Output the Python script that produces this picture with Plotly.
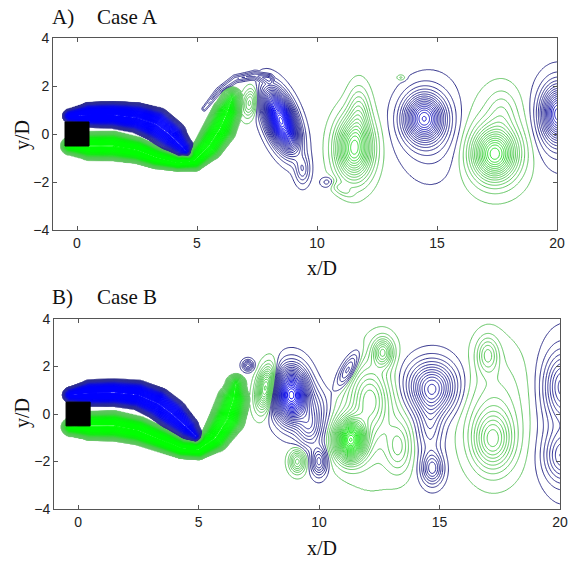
import numpy as np
import plotly.graph_objects as go

# ---------------- axes / text ----------------
x_ticks = [0, 5, 10, 15, 20]
x_tick_labels = ["0", "5", "10", "15", "20"]
y_ticks = [-4, -2, 0, 2, 4]
y_tick_labels = ["\u22124", "\u22122", "0", "2", "4"]
x_range = [-1, 20]
y_range = [-4, 4]
panel_letters = ["A)", "B)"]
panel_titles = ["Case A", "Case B"]
x_title = "x/D"
y_title = "y/D"

# square cylinder (D = 1)
body_x = [-0.5, 0.5, 0.5, -0.5, -0.5]
body_y = [-0.5, -0.5, 0.5, 0.5, -0.5]

# ---------------- Case A : shear layers (polyline vertices, half-widths) ------
a_blue_layer_x = [-0.3, 0.5, 1.5, 2.5, 3.3, 3.9, 4.4, 4.65]
a_blue_layer_y = [0.75, 0.8, 0.8, 0.68, 0.4, -0.05, -0.55, -0.9]
a_blue_layer_amp = [4.0, 5.0, 5.0, 5.0, 5.0, 4.5, 3.5, 2.0]
a_blue_layer_r = [0.3, 0.52, 0.56, 0.63, 0.72, 0.68, 0.46, 0.25]

a_green_layer_x = [-0.3, 0.5, 1.5, 2.5, 3.3, 4.2, 4.9, 5.5, 5.95, 6.25, 6.45]
a_green_layer_y = [-0.5, -0.5, -0.5, -0.68, -0.98, -1.2, -1.1, -0.5, 0.2, 0.9, 1.5]
a_green_layer_amp = [4.0, 5.0, 5.0, 5.0, 5.0, 5.0, 4.8, 4.5, 4.2, 3.6, 2.2]
a_green_layer_r = [0.38, 0.6, 0.62, 0.55, 0.47, 0.35, 0.45, 0.62, 0.7, 0.64, 0.48]

a_fil_x = [5.3, 5.9, 6.6, 7.4, 8.0]
a_fil_y = [1.05, 1.8, 2.3, 2.45, 2.3]
a_fil_amp = [0.25, 0.3, 0.35, 0.4, 0.45]
a_fil_r = [0.12, 0.16, 0.2, 0.22, 0.25]

# ---------------- Case A : vortices (signed strength: + blue, - green) -------
a_vx = [8.5, 9.4, 7.2, 11.55, 11.75, 11.0, 14.45, 14.8, 17.4, 17.5, 17.7, 20.05, 20.1, 13.5, 10.45]
a_vy = [0.55, -1.5, 1.3, -0.6, 1.0, -2.3, 0.65, 0.2, -0.85, -0.3, 1.0, 0.85, 0.5, 2.35, -2.0]
a_vs = [3.0, 0.4, -0.6, -1.5, -0.4, -0.2, 1.45, 0.25, -1.4, -0.25, -0.2, 1.4, 0.25, -0.2, 0.25]
a_vsx = [0.36, 0.2, 0.2, 0.5, 0.3, 0.35, 0.55, 0.9, 0.6, 1.0, 0.4, 0.45, 0.8, 0.12, 0.2]
a_vsy = [0.8, 0.4, 0.4, 0.85, 0.7, 0.15, 0.65, 1.3, 0.7, 1.3, 0.6, 0.75, 1.2, 0.08, 0.15]
a_vang = [20, 0, -10, 0, 0, -30, 0, 0, 0, 0, 0, 0, 0, 0, 0]

# ---------------- Case B : shear layers ----------------
b_blue_layer_x = [-0.3, 0.5, 1.5, 2.5, 3.3, 3.9, 4.5, 4.95]
b_blue_layer_y = [0.8, 0.88, 0.9, 0.8, 0.45, 0.0, -0.55, -1.0]
b_blue_layer_amp = [4.0, 5.0, 5.0, 5.0, 5.0, 4.8, 3.8, 2.2]
b_blue_layer_r = [0.35, 0.56, 0.58, 0.62, 0.68, 0.67, 0.52, 0.3]

b_green_layer_x = [-0.3, 0.5, 1.5, 2.5, 3.5, 4.3, 5.0, 5.7, 6.2, 6.45, 6.55]
b_green_layer_y = [-0.55, -0.5, -0.5, -0.7, -1.1, -1.45, -1.5, -1.0, -0.2, 0.6, 1.25]
b_green_layer_amp = [4.0, 5.0, 5.0, 5.0, 5.0, 5.0, 5.0, 4.6, 4.2, 3.6, 2.5]
b_green_layer_r = [0.4, 0.62, 0.64, 0.6, 0.52, 0.43, 0.43, 0.62, 0.76, 0.7, 0.46]

# ---------------- Case B : vortices ----------------
b_vx = [7.05, 7.8, 8.85, 9.6, 9.9, 9.1, 10.0, 11.2, 11.3, 12.1, 12.65, 13.3, 12.2,
        14.7, 14.6, 14.6, 14.7, 17.0, 17.2, 17.3, 20.1, 20.1, 20.2]
b_vy = [2.05, 1.1, 0.8, -0.6, 0.3, -2.0, -2.0, 1.85, -1.1, 0.6, 2.6, -1.4, 0.0,
        1.0, 1.4, -0.6, -2.3, 2.5, -1.1, 0.2, 1.2, -1.8, 0.0]
b_vs = [0.6, -1.3, 2.4, 0.6, 0.3, -0.7, 0.7, 0.6, -2.2, -0.6, -0.8, -0.4, -0.25,
        0.9, 0.3, 0.4, 0.7, -0.5, -0.8, -0.3, 0.7, 0.6, 0.25]
b_vsx = [0.15, 0.25, 0.45, 0.35, 0.4, 0.22, 0.22, 0.2, 0.4, 0.5, 0.28, 0.35, 1.0,
         0.6, 0.9, 0.35, 0.3, 0.3, 0.55, 0.9, 0.5, 0.5, 0.7]
b_vsy = [0.15, 0.6, 0.72, 0.55, 0.6, 0.32, 0.4, 0.55, 0.55, 0.9, 0.4, 0.7, 1.8,
         0.7, 0.7, 0.8, 0.45, 0.5, 0.8, 1.7, 0.9, 0.7, 2.0]
b_vang = [0, -10, 0, 0, 0, 0, 0, -28, 0, 0, 0, 0, 0,
          0, 0, 0, 0, 0, 0, 0, 0, 0, 0]

# ---------------- field construction ----------------
gx = np.arange(-1.0, 20.0001, 0.04)
gy = np.arange(-4.0, 4.0001, 0.04)
X, Y = np.meshgrid(gx, gy)


def layer(xs, ys, amps, rs, sign):
    """Shear layer: cone-shaped cross profile along a polyline."""
    best = np.zeros_like(X)
    for i in range(len(xs) - 1):
        x0, y0, x1, y1 = xs[i], ys[i], xs[i + 1], ys[i + 1]
        dx, dy = x1 - x0, y1 - y0
        t = np.clip(((X - x0) * dx + (Y - y0) * dy) / (dx * dx + dy * dy), 0, 1)
        d = np.sqrt((X - (x0 + t * dx)) ** 2 + (Y - (y0 + t * dy)) ** 2)
        a = amps[i] + t * (amps[i + 1] - amps[i])
        r = rs[i] + t * (rs[i + 1] - rs[i])
        best = np.maximum(best, a * np.clip(1 - d / r, 0, 1))
    return sign * best


def vortices(xs, ys, ss, sxs, sys_, angs):
    f = np.zeros_like(X)
    for x0, y0, s, sx, sy, ang in zip(xs, ys, ss, sxs, sys_, angs):
        th = np.radians(ang)
        u = (X - x0) * np.cos(th) + (Y - y0) * np.sin(th)
        v = -(X - x0) * np.sin(th) + (Y - y0) * np.cos(th)
        f += s * np.exp(-u * u / (2 * sx * sx) - v * v / (2 * sy * sy))
    return f


field_a = (layer(a_blue_layer_x, a_blue_layer_y, a_blue_layer_amp, a_blue_layer_r, 1)
           + layer(a_green_layer_x, a_green_layer_y, a_green_layer_amp, a_green_layer_r, -1)
           + layer(a_fil_x, a_fil_y, a_fil_amp, a_fil_r, 1)
           + vortices(a_vx, a_vy, a_vs, a_vsx, a_vsy, a_vang))
field_b = (layer(b_blue_layer_x, b_blue_layer_y, b_blue_layer_amp, b_blue_layer_r, 1)
           + layer(b_green_layer_x, b_green_layer_y, b_green_layer_amp, b_green_layer_r, -1)
           + vortices(b_vx, b_vy, b_vs, b_vsx, b_vsy, b_vang))

colorscale = [
    [0.0, "#00ff00"], [0.25, "#00ff00"], [0.333, "#10ee10"], [0.417, "#4ccc4c"],
    [0.4999, "#62c462"],
    [0.5001, "#2e2e88"], [0.583, "#2a2aa0"], [0.667, "#0a0ae8"], [0.75, "#0000ff"],
    [1.0, "#0000ff"],
]

W, H = 570, 563


def fx(px):
    return px / W


def fy(py):
    return 1 - py / H


doms = [
    dict(x=[fx(53), fx(557)], y=[fy(230), fy(38)]),
    dict(x=[fx(54), fx(560)], y=[fy(509), fy(319)]),
]

fig = go.Figure()
for k, fld in enumerate([field_a, field_b]):
    xa = "x" if k == 0 else "x2"
    ya = "y" if k == 0 else "y2"
    fig.add_trace(go.Contour(
        x=gx, y=gy, z=np.round(fld, 3),
        xaxis=xa, yaxis=ya,
        zmin=-6, zmax=6, colorscale=colorscale, showscale=False,
        autocontour=False,
        contours=dict(start=-5.95, end=5.95, size=0.1, coloring="lines"),
        line=dict(width=1, smoothing=1),
        hoverinfo="skip",
    ))
    fig.add_trace(go.Scatter(
        x=body_x, y=body_y, xaxis=xa, yaxis=ya, mode="lines",
        fill="toself", fillcolor="black", line=dict(color="black", width=1),
        hoverinfo="skip", showlegend=False,
    ))

axis_common = dict(
    showgrid=False, zeroline=False, showline=True, mirror="ticks", automargin=False,
    linecolor="#555555", linewidth=1, ticks="inside", ticklen=4,
    tickcolor="#555555", tickfont=dict(family="Liberation Sans, Arial", size=14, color="#222222"),
)
fig.update_layout(
    width=W, height=H, autosize=False,
    margin=dict(l=0, r=0, t=0, b=0, pad=0, autoexpand=False),
    paper_bgcolor="white", plot_bgcolor="white", showlegend=False,
    xaxis=dict(domain=doms[0]["x"], range=x_range, tickvals=x_ticks, ticktext=x_tick_labels,
               anchor="y", **axis_common),
    yaxis=dict(domain=doms[0]["y"], range=y_range, tickvals=y_ticks, ticktext=y_tick_labels,
               anchor="x", **axis_common),
    xaxis2=dict(domain=doms[1]["x"], range=x_range, tickvals=x_ticks, ticktext=x_tick_labels,
                anchor="y2", **axis_common),
    yaxis2=dict(domain=doms[1]["y"], range=y_range, tickvals=y_ticks, ticktext=y_tick_labels,
                anchor="x2", **axis_common),
)

serif = dict(family="Liberation Serif, Times New Roman", size=21, color="#111111")
serif20 = dict(family="Liberation Serif, Times New Roman", size=20, color="#111111")
ann = []
for k, (ly, xty, yty) in enumerate([(17, 268, 135), (297, 548, 413)]):
    ann.append(dict(x=fx(50), y=fy(ly), xref="paper", yref="paper", text=panel_letters[k],
                    showarrow=False, xanchor="left", yanchor="middle", font=serif))
    ann.append(dict(x=fx(95), y=fy(ly), xref="paper", yref="paper", text=panel_titles[k],
                    showarrow=False, xanchor="left", yanchor="middle", font=serif))
    ann.append(dict(x=fx(322), y=fy(xty), xref="paper", yref="paper", text=x_title,
                    showarrow=False, xanchor="center", yanchor="middle", font=serif20))
    ann.append(dict(x=fx(22), y=fy(yty), xref="paper", yref="paper", text=y_title,
                    showarrow=False, xanchor="center", yanchor="middle", textangle=-90,
                    font=serif20))
fig.update_layout(annotations=ann)

fig.write_html(
    "out.html",
    config={"displayModeBar": False, "responsive": False},
    post_script="document.body.style.margin='0';document.body.style.overflow='hidden';",
)
